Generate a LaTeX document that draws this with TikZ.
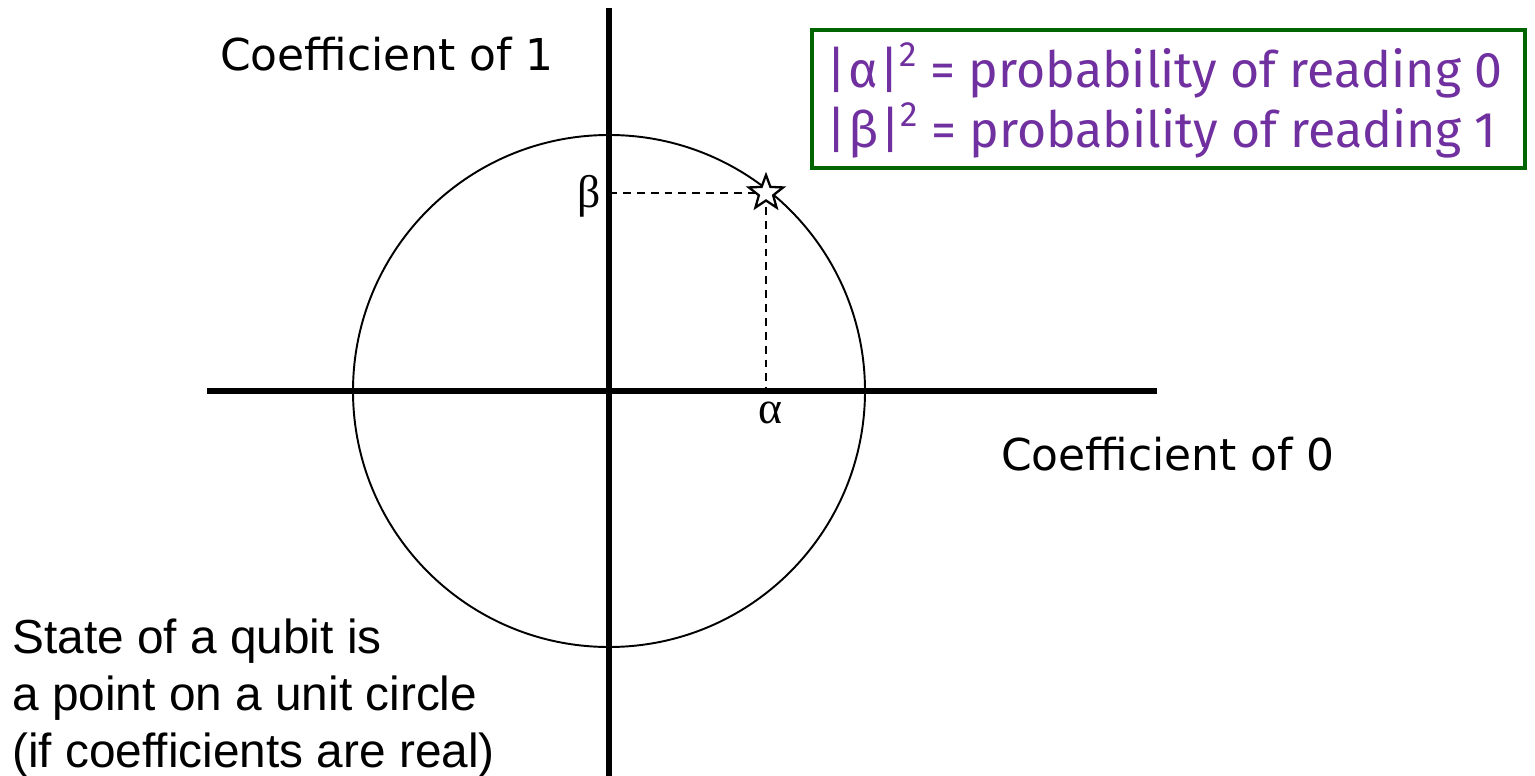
\documentclass[tikz,border=0pt]{standalone}
\usepackage{fontspec}
\usetikzlibrary{shapes.geometric}
\newfontfamily\tahf{DejaVu Sans}
\newfontfamily\arif{Liberation Sans}
\newfontfamily\purf{Fira Sans}
\newfontfamily\serf{Liberation Serif}
\definecolor{purp}{RGB}{112,48,160}
\definecolor{dgreen}{RGB}{0,100,0}
\newcommand{\sqr}{\raisebox{0.42em}{\fontsize{20}{20}\selectfont 2}}
\begin{document}
\begin{tikzpicture}[x=0.02cm,y=-0.02cm,
  axis/.style={line width=3.4pt},
  guide/.style={line width=1.1pt,dash pattern=on 4.5pt off 3.4pt},
  coef/.style={font=\tahf\fontsize{25}{30}\selectfont,inner sep=0pt,anchor=base},
  greek/.style={font=\serf\fontsize{26}{30}\selectfont,inner sep=0pt},
  prob/.style={font=\purf\fontsize{28.5}{32}\selectfont,text=purp,inner sep=0pt,anchor=base west},
  note/.style={font=\arif\fontsize{27.2}{32}\selectfont,inner sep=0pt,anchor=base west}]
\useasboundingbox (0,0) rectangle (1535,776);
% circle
\node[circle,draw,line width=1.1pt,minimum size=512*0.02cm,inner sep=0pt] (c) at (609,391) {};
% axes
\coordinate (vt) at (609,8);
\coordinate (vb) at (609,776);
\coordinate (hl) at (207,391);
\coordinate (hr) at (1157,391);
\draw[axis] (vt) -- (vb);
\draw[axis] (hl) -- (hr);
% star point and guides
\coordinate (sp) at (766,193);
\coordinate (by) at (609,193);
\coordinate (ax) at (766,391);
\draw[guide] (by) -- (sp);
\draw[guide] (sp) -- (ax);
\node[star,star points=5,star point ratio=2.4,draw,fill=white,line width=1.3pt,minimum size=36*0.02cm,inner sep=0pt] (s) at (sp) {};
% labels
\node[greek] (beta) at (589,196) {β};
\node[greek] (alpha) at (770,413) {α};
\node[coef] (c1) at (387,71) {Coefficient of 1};
\node[coef] (c0) at (1168,471) {Coefficient of 0};
% probability box
\node[draw=dgreen,line width=2.8pt,minimum width=713*0.02cm,minimum height=138*0.02cm,inner sep=0pt] (box) at (1168.5,99) {};
\node[prob] (p0) at (826,88) {|\kern1pt α\kern1pt|\sqr\ = probability of reading 0};
\node[prob] (p1) at (826,148) {|\kern1pt β\kern1pt|\sqr\ = probability of reading 1};
% note
\node[note] (n1) at (12,653) {State of a qubit is};
\node[note] (n2) at (12,710) {a point on a unit circle};
\node[note] (n3) at (12,767) {(if coefficients are real)};
\end{tikzpicture}
\end{document}
